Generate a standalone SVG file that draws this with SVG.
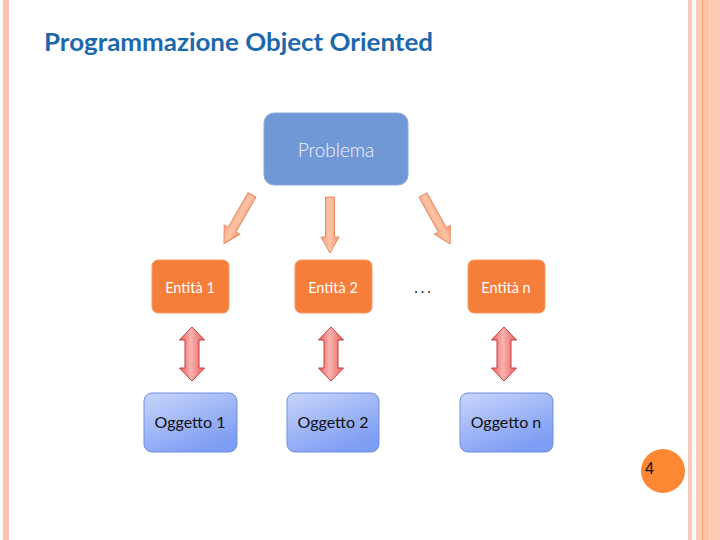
<svg xmlns="http://www.w3.org/2000/svg" width="720" height="540" viewBox="0 0 720 540">
<defs>
<linearGradient id="gOrangeArrow" x1="0" y1="0" x2="1" y2="0">
<stop offset="0" stop-color="#f7a27c"/>
<stop offset="0.5" stop-color="#fcc4a8"/>
<stop offset="1" stop-color="#f69a70"/>
</linearGradient>
<linearGradient id="gRedArrow" x1="0" y1="0" x2="1" y2="0">
<stop offset="0" stop-color="#ec5a5a"/>
<stop offset="0.45" stop-color="#f8b4b0"/>
<stop offset="1" stop-color="#ec5e5e"/>
</linearGradient>
<linearGradient id="gObj" x1="0" y1="0" x2="0.6" y2="1">
<stop offset="0" stop-color="#c9d6fb"/>
<stop offset="1" stop-color="#7d9cf3"/>
</linearGradient>
<path id="downArrow" d="M-4.5,0 L4.5,0 L4.5,40 L9,40 L0,56 L-9,40 L-4.5,40 Z"/>
<path id="dblArrow" d="M0,0 L12.5,13 L7,13 L7,41 L12.5,41 L0,54 L-12.5,41 L-7,41 L-7,13 L-12.5,13 Z"/>
</defs>
<style>
.title{font-family:Lato,"Open Sans","Liberation Sans",sans-serif;font-weight:bold;font-size:24px;fill:#1c68ad}
.lbl{font-family:Lato,"Open Sans","Liberation Sans",sans-serif;text-anchor:middle}
.ent{fill:#f57e3a;stroke:#f59a66;stroke-width:1}
.entT{fill:#ffffff;font-size:14.5px}
.obj{fill:url(#gObj);stroke:#6f8fe4;stroke-width:1}
.objT{fill:#111111;font-size:16px}
.oa{fill:url(#gOrangeArrow);stroke:#e8895e;stroke-width:1}
.ra{fill:url(#gRedArrow);stroke:#c33c3c;stroke-width:1}
</style>
<rect width="720" height="540" fill="#ffffff"/>
<!-- page borders -->
<rect x="3" y="0" width="6" height="540" fill="#f9c3b0"/>
<rect x="688" y="0" width="4" height="540" fill="#f9c9b8"/>
<rect x="696" y="0" width="6" height="540" fill="#fbcdbb"/>
<rect x="702" y="0" width="1.5" height="540" fill="#f0a06a"/>
<rect x="703.5" y="0" width="6" height="540" fill="#fcc6a6"/>
<rect x="709.5" y="0" width="10.5" height="540" fill="#fdcab4"/>

<text class="title" x="44" y="51" textLength="389" lengthAdjust="spacingAndGlyphs">Programmazione Object Oriented</text>

<g id="problema">
<rect x="264" y="113" width="144" height="72" rx="10" fill="#7097d6" stroke="#8aaade" stroke-width="1"/>
<text class="lbl" x="336" y="157" font-size="19" fill="#f2f6fc" font-weight="300">Problema</text>
</g>

<g id="connectors">
<use href="#downArrow" class="oa" transform="translate(252,195) rotate(30)"/>
<use href="#downArrow" class="oa" transform="translate(330,197)"/>
<use href="#downArrow" class="oa" transform="translate(423,195) rotate(-29)"/>
<use href="#dblArrow" class="ra" transform="translate(192,327)"/>
<use href="#dblArrow" class="ra" transform="translate(331,327)"/>
<use href="#dblArrow" class="ra" transform="translate(504,327)"/>
</g>

<g id="entita1">
<rect class="ent" x="152" y="260" width="77" height="53" rx="6"/>
<text class="lbl entT" x="190" y="293">Entità 1</text>
</g>
<g id="entita2">
<rect class="ent" x="295" y="260" width="77" height="53" rx="6"/>
<text class="lbl entT" x="333" y="293">Entità 2</text>
</g>
<g id="dots">
<text class="lbl" x="424" y="293" font-size="15" fill="#222222" letter-spacing="3">...</text>
</g>
<g id="entitan">
<rect class="ent" x="468" y="260" width="77" height="53" rx="6"/>
<text class="lbl entT" x="506" y="293">Entità n</text>
</g>

<g id="oggetto1">
<rect class="obj" x="144" y="393" width="93" height="59" rx="8"/>
<text class="lbl objT" x="190" y="428">Oggetto 1</text>
</g>
<g id="oggetto2">
<rect class="obj" x="287" y="393" width="92" height="59" rx="8"/>
<text class="lbl objT" x="333" y="428">Oggetto 2</text>
</g>
<g id="oggetton">
<rect class="obj" x="460" y="393" width="93" height="59" rx="8"/>
<text class="lbl objT" x="506" y="428">Oggetto n</text>
</g>

<g id="pagenum">
<circle cx="663" cy="471" r="22" fill="#fd8733"/>
<text x="645" y="474" font-family="'Liberation Sans',Arial,sans-serif" font-size="16" fill="#111111">4</text>
</g>
</svg>
